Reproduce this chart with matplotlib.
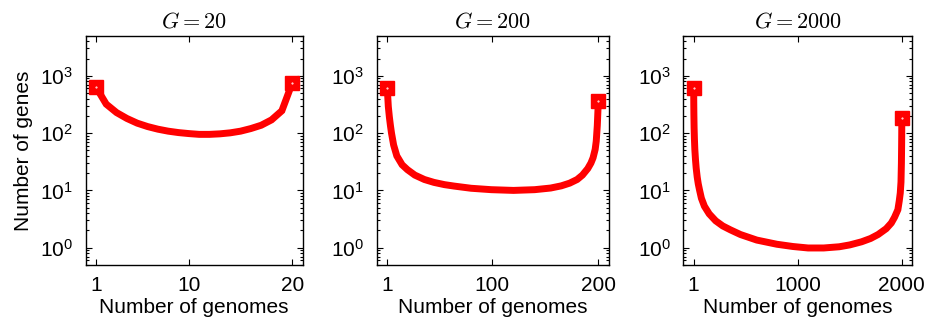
import numpy as np
import matplotlib.pyplot as plt

plt.rcParams['font.family'] = ['Liberation Sans', 'DejaVu Sans']
plt.rcParams['mathtext.fontset'] = 'custom'
plt.rcParams['mathtext.rm'] = 'Liberation Sans'
plt.rcParams['mathtext.it'] = 'Liberation Sans:italic'

# gene frequency spectra (k genomes -> number of genes)
k_20 = np.arange(1, 21)
genes_20 = [640, 320, 228, 180, 149, 130, 117, 108, 102, 98,
            95, 95, 97, 101, 108, 120, 137, 170, 245, 745]

k_200 = [1, 2, 3, 4, 5, 7, 10, 15, 20, 27, 36, 45, 55, 64, 80, 99, 120,
         140, 155, 165, 173, 180, 185, 190, 193, 195, 197, 198, 199, 200]
genes_200 = [608, 290, 190, 135, 100, 62, 40, 28, 23, 18.5, 15.5, 13.8, 12.6,
             11.9, 10.9, 10.3, 10.0, 10.3, 11.0, 12.0, 13.4, 15.5, 18.5, 24,
             30, 37, 52, 72, 135, 366]

k_2000 = [1, 2, 3, 5, 8, 12, 18, 25, 35, 45, 57, 75, 104, 150, 212, 280,
          354, 450, 607, 800, 955, 1100, 1250, 1400, 1500, 1614, 1700, 1772,
          1850, 1899, 1930, 1962, 1975, 1985, 1992, 1996, 1998, 1999, 2000]
genes_2000 = [615, 310, 210, 125, 80, 52, 35, 24.5, 17, 13, 10.2, 7.3, 5.3,
              3.9, 2.95, 2.4, 2.05, 1.7, 1.36, 1.15, 1.05, 0.99, 0.99, 1.04,
              1.12, 1.27, 1.45, 1.7, 2.15, 2.7, 3.4, 4.6, 6.5, 9, 14, 30, 60,
              95, 185]

panels = [(20, k_20, genes_20), (200, k_200, genes_200), (2000, k_2000, genes_2000)]
positions = [[0.092, 0.1745, 0.2333, 0.7143],
             [0.405, 0.1745, 0.2498, 0.7143],
             [0.7347, 0.1745, 0.2462, 0.7143]]

fig = plt.figure(figsize=(9.3, 3.21), dpi=100)
for i, (G, k, genes) in enumerate(panels):
    ax = fig.add_axes(positions[i])
    ax.plot(k, genes, color='red', lw=5, solid_joinstyle='miter')
    ax.plot([k[0], k[-1]], [genes[0], genes[-1]], ls='none', marker='s',
            ms=9.5, mfc='red', mec='red', mew=1)
    ax.plot([k[0], k[-1]], [genes[0], genes[-1]], ls='none', marker='.',
            ms=1, color='white')
    ax.set_yscale('log')
    ax.set_ylim(0.5, 5000)
    ax.set_xlim(1 - 0.05 * G, G * 1.05)
    ax.set_xticks([1, G // 2, G])
    ax.set_xticklabels(['1', str(G // 2), str(G)])
    ax.set_yticks([1, 10, 100, 1000])
    ax.tick_params(which='both', direction='in', top=True, right=True,
                   labelsize=15, width=0.8)
    ax.tick_params(which='major', length=4)
    ax.tick_params(axis='x', which='major', pad=8)
    ax.tick_params(axis='y', which='major', pad=9)
    ax.tick_params(which='minor', length=2)
    ax.tick_params(axis='x', which='minor', bottom=False, top=False)
    for s in ax.spines.values():
        s.set_linewidth(1.0)
    ax.set_xlabel('Number of genomes', fontsize=15, labelpad=2)
    ax.set_title(r'$G = %d$' % G, fontsize=16, math_fontfamily='cm', pad=6)
    if i == 0:
        ax.set_ylabel('Number of genes', fontsize=15, labelpad=5)

fig.savefig('out.png', dpi=100)
